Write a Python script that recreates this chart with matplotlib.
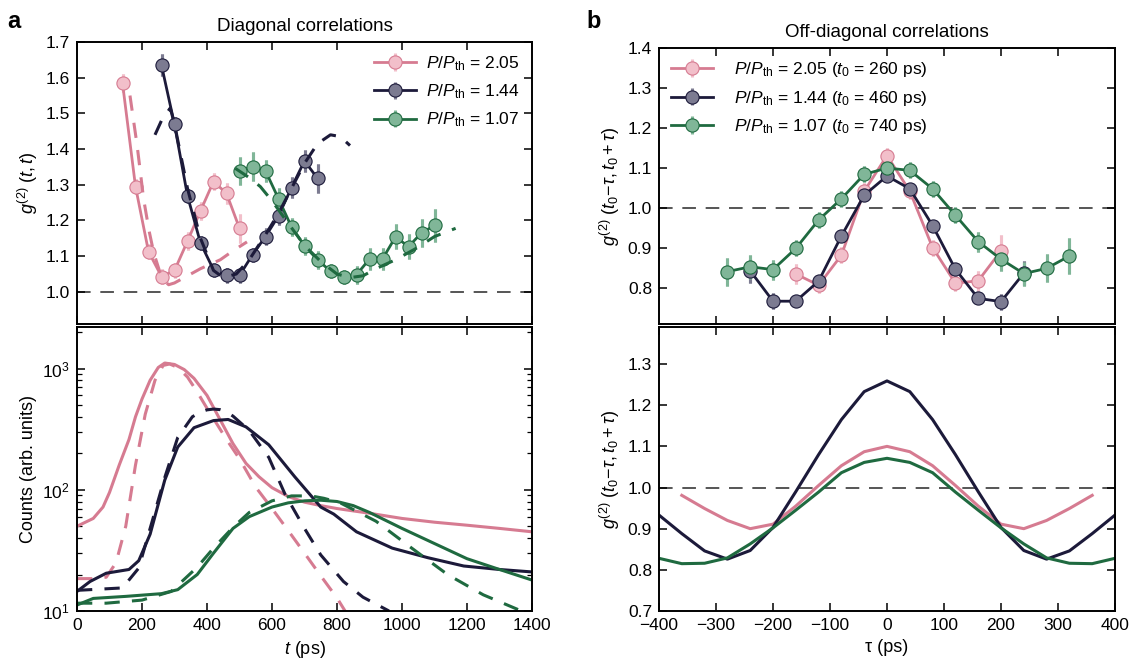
import matplotlib
matplotlib.use("Agg")
import matplotlib.pyplot as plt

plt.rcParams['font.family'] = ['Liberation Sans', 'DejaVu Sans']
plt.rcParams['mathtext.fontset'] = 'custom'
plt.rcParams['mathtext.rm'] = 'Liberation Sans'
plt.rcParams['mathtext.it'] = 'Liberation Sans:italic'
plt.rcParams['mathtext.bf'] = 'Liberation Sans:bold'

# colours
pink_line, pink_face = "#d67b91", "#f2bfca"
dark_line, dark_face = "#1c1a3a", "#7c7b91"
green_line, green_face = "#1f6a40", "#80b698"

# ---- panel a, top: g2(t,t) measured
t_pink = [140, 180, 220, 260, 300, 340, 380, 420, 460, 500]
g_pink = [1.585, 1.295, 1.113, 1.043, 1.060, 1.142, 1.227, 1.309, 1.276, 1.178]
e_pink = [0.025, 0.02, 0.02, 0.02, 0.02, 0.025, 0.025, 0.025, 0.03, 0.04]

t_dark = [260, 300, 340, 380, 420, 460, 500, 540, 580, 620, 660, 700, 740]
g_dark = [1.635, 1.469, 1.269, 1.137, 1.062, 1.046, 1.046, 1.104, 1.155, 1.213, 1.292, 1.367, 1.318]
e_dark = [0.03, 0.02, 0.02, 0.02, 0.02, 0.02, 0.02, 0.02, 0.025, 0.025, 0.03, 0.03, 0.04]

t_green = [500, 540, 580, 620, 660, 700, 740, 780, 820, 860, 900, 940, 980, 1020, 1060, 1100]
g_green = [1.339, 1.351, 1.339, 1.261, 1.182, 1.129, 1.090, 1.058, 1.042, 1.048,
           1.092, 1.092, 1.154, 1.127, 1.165, 1.186]
e_green = [0.04, 0.04, 0.03, 0.03, 0.025, 0.025, 0.025, 0.02, 0.02, 0.025,
           0.03, 0.03, 0.035, 0.035, 0.04, 0.045]

# ---- panel a, top: theory (dashed)
th_pink_t = [163, 185, 205, 222, 236, 255, 270, 282, 300, 338, 380, 441, 480, 523]
th_pink_g = [1.55, 1.41, 1.26, 1.17, 1.11, 1.055, 1.03, 1.02, 1.025, 1.044, 1.065, 1.09, 1.115, 1.14]
th_dark_t = [240, 260, 287, 300, 340, 380, 420, 450, 490, 530, 580, 620, 660, 700, 740, 780, 810, 840]
th_dark_g = [1.44, 1.48, 1.515, 1.47, 1.29, 1.15, 1.06, 1.04, 1.05, 1.09, 1.16, 1.22, 1.29,
             1.36, 1.415, 1.44, 1.435, 1.41]
th_green_t = [487, 530, 564, 600, 646, 700, 750, 800, 840, 880, 920, 980, 1040, 1100, 1165]
th_green_g = [1.346, 1.32, 1.295, 1.255, 1.197, 1.13, 1.085, 1.05, 1.04, 1.045, 1.065, 1.09,
              1.12, 1.155, 1.178]

# ---- panel a, bottom: counts
cnt_pink_t = [0, 50, 80, 100, 130, 160, 180, 200, 225, 250, 270, 300, 330, 360, 400, 440, 480,
              520, 560, 600, 650, 700, 750, 800, 900, 1000, 1100, 1200, 1300, 1400]
cnt_pink = [50, 58, 72, 95, 160, 260, 400, 560, 800, 1020, 1110, 1080, 980, 830, 600, 380, 240,
            165, 128, 104, 88, 79, 74, 70, 64, 58, 54, 51, 48, 45]
cnt_pink_th_t = [0, 60, 90, 120, 150, 180, 210, 240, 265, 285, 310, 340, 370, 400, 430, 460,
                 500, 550, 600, 650, 700, 750, 800, 830]
cnt_pink_th = [18.5, 18.5, 19, 25, 50, 160, 420, 800, 1060, 1090, 1020, 850, 640, 470, 350, 260,
               180, 105, 70, 46, 30, 19.5, 12.8, 9.5]
cnt_dark_t = [0, 40, 90, 160, 190, 225, 270, 310, 360, 420, 465, 520, 590, 670, 750, 790, 860,
              970, 1080, 1190, 1300, 1400]
cnt_dark = [14.5, 17.5, 20.5, 22, 26, 43, 120, 225, 325, 372, 380, 330, 235, 128, 72, 63, 45,
            33, 27.5, 23.5, 22, 21]
cnt_dark_th_t = [0, 140, 190, 225, 270, 310, 355, 380, 400, 420, 440, 460, 480, 530, 590, 640,
                 700, 750, 820, 880, 960]
cnt_dark_th = [14.8, 15.5, 22.6, 48, 126, 270, 400, 438, 456, 463, 458, 438, 405, 308, 185, 92,
               48, 29, 17.5, 13, 10]
cnt_green_t = [0, 50, 150, 260, 310, 370, 420, 480, 530, 600, 650, 700, 750, 800, 850, 900,
               1000, 1100, 1200, 1300, 1400]
cnt_green = [11.2, 12.7, 13.2, 13.9, 15, 20, 30, 48, 60, 72, 78, 81, 82, 80, 74, 65, 48, 36, 27, 22, 18]
cnt_green_th_t = [0, 90, 200, 290, 370, 420, 480, 530, 600, 660, 720, 760, 810, 920, 1030, 1140, 1250, 1360]
cnt_green_th = [11.6, 11.6, 12.3, 14.5, 23, 33, 49, 65, 81, 89, 89, 85, 78, 55, 33, 20, 13.6, 10.2]

# ---- panel b, top: off-diagonal measured
tau_pink = [-160, -120, -80, -40, 0, 40, 80, 120, 160, 200]
od_pink = [0.835, 0.807, 0.882, 1.042, 1.131, 1.042, 0.901, 0.812, 0.818, 0.893]
oe_pink = [0.025, 0.02, 0.02, 0.02, 0.02, 0.02, 0.02, 0.02, 0.025, 0.04]
tau_dark = [-240, -200, -160, -120, -80, -40, 0, 40, 80, 120, 160, 200, 240]
od_dark = [0.843, 0.767, 0.767, 0.817, 0.930, 1.032, 1.080, 1.048, 0.956, 0.847, 0.774, 0.766, 0.837]
oe_dark = [0.03, 0.02, 0.015, 0.015, 0.015, 0.015, 0.015, 0.015, 0.015, 0.015, 0.015, 0.02, 0.03]
tau_green = [-280, -240, -200, -160, -120, -80, -40, 0, 40, 80, 120, 160, 200, 240, 280, 320]
od_green = [0.841, 0.853, 0.846, 0.899, 0.970, 1.023, 1.084, 1.100, 1.094, 1.048, 0.982, 0.916,
            0.872, 0.836, 0.849, 0.880]
oe_green = [0.035, 0.03, 0.025, 0.02, 0.02, 0.02, 0.02, 0.02, 0.02, 0.02, 0.02, 0.025, 0.03,
            0.03, 0.035, 0.045]

# ---- panel b, bottom: theory
tau_th = [-400, -360, -320, -280, -240, -200, -160, -120, -80, -40, 0,
          40, 80, 120, 160, 200, 240, 280, 320, 360, 400]
th_od_dark = [0.933, 0.888, 0.846, 0.826, 0.847, 0.903, 0.99, 1.08, 1.165, 1.233, 1.259,
              1.233, 1.165, 1.08, 0.99, 0.903, 0.847, 0.826, 0.846, 0.888, 0.933]
tau_th_pink = [-360, -320, -280, -240, -200, -160, -120, -80, -40, 0,
               40, 80, 120, 160, 200, 240, 280, 320, 360]
th_od_pink = [0.981, 0.949, 0.920, 0.900, 0.911, 0.955, 1.005, 1.053, 1.087, 1.100,
              1.087, 1.053, 1.005, 0.955, 0.911, 0.900, 0.920, 0.949, 0.981]
th_od_green = [0.828, 0.815, 0.816, 0.829, 0.863, 0.902, 0.945, 0.989, 1.036, 1.061, 1.071,
               1.061, 1.036, 0.989, 0.945, 0.902, 0.863, 0.829, 0.816, 0.815, 0.828]

W, H = 1134, 665
fig = plt.figure(figsize=(W / 100, H / 100), dpi=100)


def box(x0, x1, y0, y1):
    return [x0 / W, 1 - y1 / H, (x1 - x0) / W, (y1 - y0) / H]


ax_a1 = fig.add_axes(box(77, 532, 42, 324))
ax_a2 = fig.add_axes(box(77, 532, 327, 611))
ax_b1 = fig.add_axes(box(659, 1115, 48, 324))
ax_b2 = fig.add_axes(box(659, 1115, 327, 611))

for ax in (ax_a1, ax_a2, ax_b1, ax_b2):
    for s in ax.spines.values():
        s.set_linewidth(1.4)
    ax.tick_params(direction='in', top=True, right=True, length=6, width=1.1,
                   labelsize=12.5, pad=5)
    ax.tick_params(which='minor', direction='in', top=True, right=True, length=3.5, width=0.9)

series = [
    (pink_line, pink_face, "2.05", "260"),
    (dark_line, dark_face, "1.44", "460"),
    (green_line, green_face, "1.07", "740"),
]


def data(ax, x, y, e, lc, fc, label):
    ax.errorbar(x, y, yerr=e, fmt='none', ecolor=fc, elinewidth=2.2, capsize=0, zorder=2)
    ax.errorbar(x, y, yerr=e, color=lc, lw=2, marker='o', ms=9.5, mfc=fc, mec=lc, mew=0.8,
                ecolor=fc, elinewidth=2.2, capsize=0, zorder=3, label=label)


# panel a top
for (lc, fc, p, t0), x, y, e in zip(series, [t_pink, t_dark, t_green],
                                     [g_pink, g_dark, g_green], [e_pink, e_dark, e_green]):
    data(ax_a1, x, y, e, lc, fc, r"$P/P_{\mathrm{th}}$ = " + p)
for (lc, fc, p, t0), x, y in zip(series, [th_pink_t, th_dark_t, th_green_t],
                                  [th_pink_g, th_dark_g, th_green_g]):
    ax_a1.plot(x, y, color=lc, lw=2.2, dashes=(5, 4), zorder=4)
ax_a1.axhline(1.0, color='#555555', lw=1.4, dashes=(7, 5), zorder=1)
ax_a1.set_xlim(0, 1400)
ax_a1.set_ylim(0.91, 1.7)
ax_a1.set_xticks(range(0, 1401, 200))
ax_a1.set_xticklabels([])
ax_a1.set_yticks([1.0, 1.1, 1.2, 1.3, 1.4, 1.5, 1.6, 1.7])
ax_a1.set_ylabel(r"$g^{(2)}\ (t, t)$", fontsize=13)
ax_a1.set_title("Diagonal correlations", fontsize=13.5, pad=8)
ax_a1.legend(loc='upper right', frameon=False, fontsize=12.5, handlelength=2.4,
             borderaxespad=0.3, labelspacing=0.55, handletextpad=0.6)

# panel a bottom
for (lc, fc, p, t0), x, y, xt, yt in zip(series,
                                          [cnt_pink_t, cnt_dark_t, cnt_green_t],
                                          [cnt_pink, cnt_dark, cnt_green],
                                          [cnt_pink_th_t, cnt_dark_th_t, cnt_green_th_t],
                                          [cnt_pink_th, cnt_dark_th, cnt_green_th]):
    ax_a2.plot(x, y, color=lc, lw=2.2)
    ax_a2.plot(xt, yt, color=lc, lw=2.2, dashes=(5, 4))
ax_a2.set_yscale('log')
ax_a2.set_xlim(0, 1400)
ax_a2.set_ylim(10, 2200)
ax_a2.set_xticks(range(0, 1401, 200))
ax_a2.set_xlabel(r"$t$ (ps)", fontsize=13)
ax_a2.set_ylabel("Counts (arb. units)", fontsize=13)

# panel b top
for (lc, fc, p, t0), x, y, e in zip(series, [tau_pink, tau_dark, tau_green],
                                     [od_pink, od_dark, od_green], [oe_pink, oe_dark, oe_green]):
    data(ax_b1, x, y, e, lc, fc, r"$P/P_{\mathrm{th}}$ = " + p + r" ($t_0$ = " + t0 + " ps)")
ax_b1.axhline(1.0, color='#555555', lw=1.4, dashes=(7, 5), zorder=1)
ax_b1.set_xlim(-400, 400)
ax_b1.set_ylim(0.71, 1.4)
ax_b1.set_xticks(range(-300, 301, 100))
ax_b1.set_xticklabels([])
ax_b1.set_yticks([0.8, 0.9, 1.0, 1.1, 1.2, 1.3, 1.4])
ax_b1.set_ylabel(r"$g^{(2)}\ (t_0\!-\!\tau, t_0 + \tau)$", fontsize=13)
ax_b1.set_title("Off-diagonal correlations", fontsize=13.5, pad=8)
ax_b1.legend(loc='upper left', frameon=False, fontsize=12.5, handlelength=2.4,
             borderaxespad=0.3, labelspacing=0.55, handletextpad=1.2)

# panel b bottom
ax_b2.plot(tau_th_pink, th_od_pink, color=pink_line, lw=2.2)
ax_b2.plot(tau_th, th_od_dark, color=dark_line, lw=2.2)
ax_b2.plot(tau_th, th_od_green, color=green_line, lw=2.2)
ax_b2.axhline(1.0, color='#555555', lw=1.4, dashes=(7, 5), zorder=1)
ax_b2.set_xlim(-400, 400)
ax_b2.set_ylim(0.7, 1.39)
ax_b2.set_xticks(range(-400, 401, 100))
ax_b2.set_yticks([0.7, 0.8, 0.9, 1.0, 1.1, 1.2, 1.3])
ax_b2.set_xlabel("τ (ps)", fontsize=13)
ax_b2.set_ylabel(r"$g^{(2)}\ (t_0\!-\!\tau, t_0 + \tau)$", fontsize=13)

fig.text(7 / W, 1 - 22 / H, "a", fontsize=17, fontweight='bold', va='center')
fig.text(586 / W, 1 - 22 / H, "b", fontsize=17, fontweight='bold', va='center')

fig.savefig("out.png", dpi=100)
